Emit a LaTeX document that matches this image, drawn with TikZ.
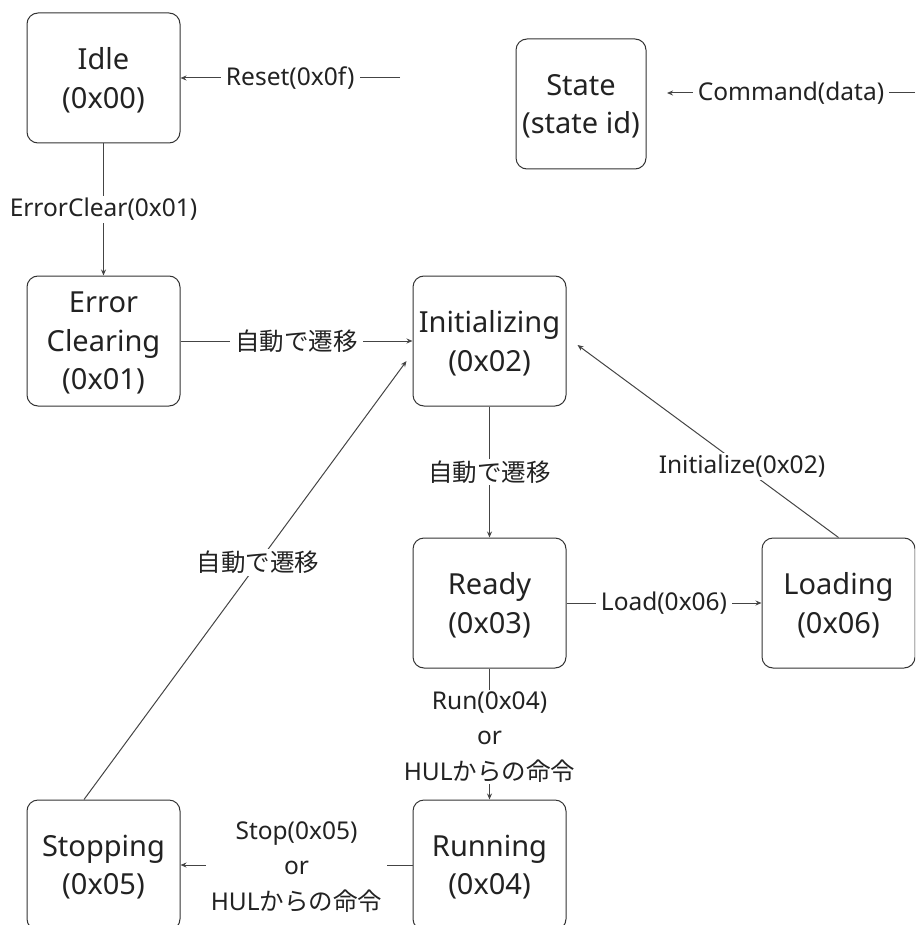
\documentclass[tikz,border=0pt]{standalone}
\usepackage{fontspec}
\setmainfont{Noto Sans}
\newfontfamily\jp{Noto Sans CJK JP}
\usetikzlibrary{arrows.meta,calc}
\definecolor{boxline}{HTML}{333333}
\definecolor{wire}{HTML}{444444}
\definecolor{ink}{HTML}{222222}
\begin{document}
\begin{tikzpicture}[x=1pt,y=-1pt,
  state/.style={draw=boxline, line width=1pt, rounded corners=11pt,
    minimum width=153pt, minimum height=130pt, inner sep=0pt, text depth=0pt,
    align=center, text=ink, font=\fontsize{29}{38.5}\selectfont},
  edge/.style={draw=wire, line width=1pt, -{Stealth[length=6pt,width=5pt]}},
  lbl/.style={fill=white, text=ink, align=center, inner xsep=5pt, inner ysep=2pt,
    font=\fontsize{24.5}{35.5}\selectfont}]
\useasboundingbox (0,0) rectangle (915,925);
\clip (0,0) rectangle (915,925);

% states
\node[state] (idle)   at (103.5,78)  {Idle\\(0x00)};
\node[state, minimum width=130pt] (legend) at (581,104) {State\\(state id)};
\node[state] (errclr) at (103.5,341) {Error\\Clearing\\(0x01)};
\node[state] (init)   at (489.5,341) {Initializing\\(0x02)};
\node[state] (ready)  at (489.5,603) {Ready\\(0x03)};
\node[state] (load)   at (838.5,603) {Loading\\(0x06)};
\node[state] (run)    at (489.5,865) {Running\\(0x04)};
\node[state] (stop)   at (103.5,865) {Stopping\\(0x05)};

% free ends of the incoming commands
\coordinate (resetFrom) at (400,78);
\coordinate (cmdFrom) at (915,93);
\coordinate (cmdTo) at (667,93);
\coordinate (stopFrom) at ($(stop.north)+(-19.5,0)$);
\coordinate (stopTip) at ($(init.west)+(-6,20)$);
\coordinate (loadTip) at ($(init.east)+(11,4)$);

% transitions
\draw[edge] (resetFrom) -- (idle.east) node[lbl, midway] {Reset(0x0f)};
\draw[edge] (cmdFrom) -- (cmdTo) node[lbl, midway] {Command(data)};
\draw[edge] (idle.south) -- (errclr.north) node[lbl, midway] {ErrorClear(0x01)};
\draw[edge] (errclr.east) -- (init.west) node[lbl, midway] {\jp 自動で遷移};
\draw[edge] (init.south) -- (ready.north) node[lbl, midway] {\jp 自動で遷移};
\draw[edge] (ready.east) -- (load.west) node[lbl, midway] {Load(0x06)};
\draw[edge] (load.north) -- (loadTip) node[lbl, pos=0.37] {Initialize(0x02)};
\draw[edge] (ready.south) -- (run.north) node[lbl, midway, yshift=-3pt] {Run(0x04)\\or\\HUL{\jp からの命令}};
\draw[edge] (run.west) -- (stop.east) node[lbl, midway, yshift=-2pt] {Stop(0x05)\\or\\HUL{\jp からの命令}};
\draw[edge] (stopFrom) -- (stopTip) node[lbl, pos=0.54] {\jp 自動で遷移};
\end{tikzpicture}
\end{document}
